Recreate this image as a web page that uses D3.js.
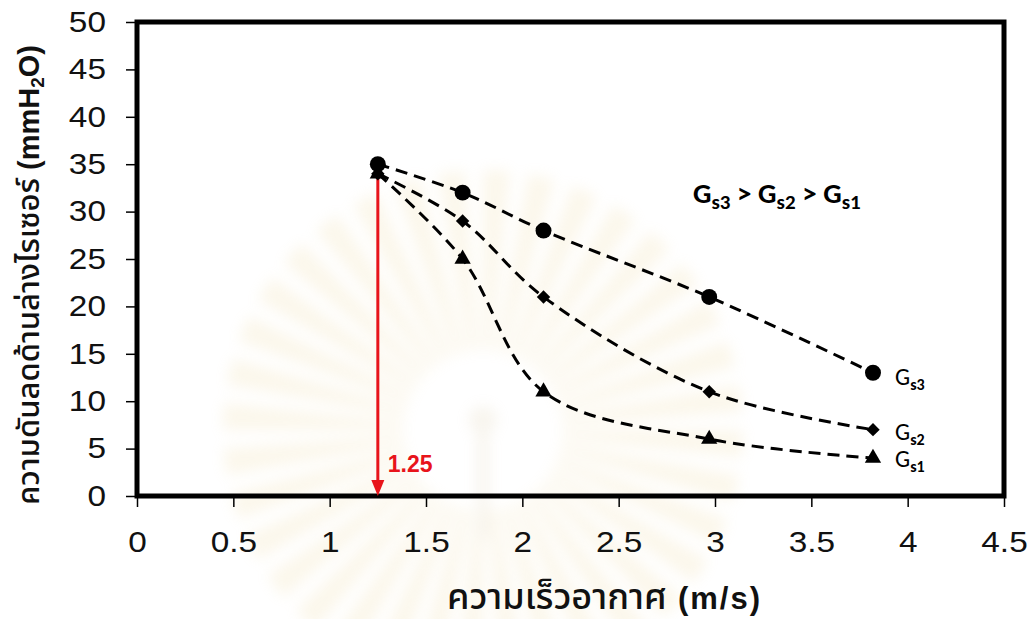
<!DOCTYPE html>
<html>
<head>
<meta charset="utf-8">
<script src="https://cdn.jsdelivr.net/npm/d3@7"></script>
<style>
  html, body { margin: 0; padding: 0; background: #fff; }
  svg { display: block; }
</style>
</head>
<body>
<svg id="chart" width="1036" height="619"></svg>
<script>
// Air velocity (m/s) at each measuring point
const speed = [1.25, 1.69, 2.11, 2.97, 3.82];
// Pressure drop below the riser (mmH2O) for three solid fluxes
const gs3 = [35, 32, 28, 21, 13];
const gs2 = [34, 29, 21, 11, 7];
const gs1 = [34, 25, 11, 6, 4];
const seriesNames = ["Gs3", "Gs2", "Gs1"];
const markerKinds = ["circle", "diamond", "triangle"];
const xTicks = [0, 0.5, 1, 1.5, 2, 2.5, 3, 3.5, 4, 4.5];
const yTicks = [0, 5, 10, 15, 20, 25, 30, 35, 40, 45, 50];
const markedSpeed = 1.25;

const svg = d3.select("#chart");
const plotL = 137, plotR = 1004, plotT = 22, plotB = 496;

const x = d3.scaleLinear().domain([0, 4.5]).range([plotL, plotR]);
const y = d3.scaleLinear().domain([0, 50]).range([plotB, plotT]);

// faint emblem watermark in the background
const defs = svg.append("defs");
defs.append("filter").attr("id", "soft")
  .attr("x", "-50%").attr("y", "-50%").attr("width", "200%").attr("height", "200%")
  .append("feGaussianBlur").attr("stdDeviation", 7);
const wm = svg.append("g").attr("transform", "translate(483,430)")
  .attr("filter", "url(#soft)").attr("opacity", 0.18);
const nRays = 36;
for (let i = 0; i < nRays; i++) {
  const a0 = (i / nRays) * 2 * Math.PI, a1 = a0 + (0.6 / nRays) * 2 * Math.PI;
  wm.append("path")
    .attr("d", d3.arc()({innerRadius: 80, outerRadius: 260, startAngle: a0, endAngle: a1}))
    .attr("fill", "#ecd596");
}
wm.append("rect").attr("x", -6).attr("y", -10).attr("width", 12).attr("height", 120).attr("fill", "#d9c9a4");
wm.append("circle").attr("cx", 0).attr("cy", -10).attr("r", 14).attr("fill", "#d9c9a4");

// axes
const xAxis = d3.axisBottom(x).tickValues(xTicks).tickSize(11).tickPadding(24).tickFormat(d3.format("~g"));
const yAxis = d3.axisLeft(y).tickValues(yTicks).tickSize(11).tickPadding(16).tickFormat(d3.format("~g"));

const gx = svg.append("g").attr("transform", `translate(0,${plotB})`).call(xAxis);
const gy = svg.append("g").attr("transform", `translate(${plotL},0)`).call(yAxis);
[gx, gy].forEach(g => {
  g.select(".domain").remove();
  g.selectAll(".tick line").attr("stroke", "#000").attr("stroke-width", 1.5);
  g.selectAll(".tick text")
    .attr("font-family", "'Liberation Sans', Arial, sans-serif")
    .attr("font-size", 29).attr("fill", "#111")
    .attr("transform", "scale(1.15,1)");
});

// plot frame
svg.append("rect")
  .attr("x", plotL).attr("y", plotT)
  .attr("width", plotR - plotL).attr("height", plotB - plotT)
  .attr("fill", "none").attr("stroke", "#000").attr("stroke-width", 5);

// red arrow at the marked velocity
const red = "#e8141b";
svg.append("line")
  .attr("x1", x(markedSpeed)).attr("x2", x(markedSpeed))
  .attr("y1", y(34.3)).attr("y2", y(0) - 12)
  .attr("stroke", red).attr("stroke-width", 3);
svg.append("path")
  .attr("d", `M${x(markedSpeed) - 6.5},${y(0) - 16} L${x(markedSpeed) + 6.5},${y(0) - 16} L${x(markedSpeed)},${y(0)} Z`)
  .attr("fill", red);
svg.append("text")
  .attr("x", x(markedSpeed) + 10).attr("y", 472)
  .attr("font-family", "'Liberation Sans', Arial, sans-serif")
  .attr("font-weight", "bold").attr("font-size", 23).attr("fill", red)
  .text(d3.format("~g")(markedSpeed));

// dashed smoothed curves and markers
const allSeries = [gs3, gs2, gs1];
const line = d3.line().x((d, i) => x(speed[i])).y(d => y(d)).curve(d3.curveCatmullRom.alpha(0.5));
allSeries.forEach(vals => {
  svg.append("path").attr("d", line(vals))
    .attr("fill", "none").attr("stroke", "#000")
    .attr("stroke-width", 3).attr("stroke-dasharray", "12,7");
});
const symbolOf = {
  circle: d3.symbol().type(d3.symbolCircle).size(200),
  diamond: d3.symbol().type(d3.symbolSquare).size(90),
  triangle: d3.symbol().type(d3.symbolTriangle).size(115)
};
allSeries.slice().reverse().forEach((vals, ri) => {
  const k = allSeries.length - 1 - ri;
  vals.forEach((v, i) => {
    const rot = markerKinds[k] === "diamond" ? " rotate(45)" : "";
    svg.append("path")
      .attr("d", symbolOf[markerKinds[k]]())
      .attr("transform", `translate(${x(speed[i])},${y(v)})${rot}`)
      .attr("fill", "#000");
  });
});

// series labels at the end of each curve
const calibri = "Carlito, Lato, 'Open Sans', sans-serif";
const endLabelY = [385, 440, 467];
seriesNames.forEach((name, k) => {
  const t = svg.append("text").attr("x", x(speed[4]) + 22).attr("y", endLabelY[k])
    .attr("font-family", calibri).attr("fill", "#000");
  t.append("tspan").attr("font-size", 24).text("G");
  t.append("tspan").attr("font-size", 16).attr("font-weight", "bold").attr("dy", 5).text("s" + name.slice(2));
});

// ordering note
const note = svg.append("text").attr("x", 693).attr("y", 203).attr("font-size", 29)
  .attr("font-family", calibri).attr("font-weight", "bold");
[["G", "s3", " > "], ["G", "s2", " > "], ["G", "s1", ""]].forEach(([b, s, tail]) => {
  note.append("tspan").attr("dy", 0).text(b);
  note.append("tspan").attr("font-size", 21).attr("dy", 6).text(s);
  note.append("tspan").attr("dy", -6).text(tail);
});

// axis titles
const thaiFamily = "'Liberation Sans', Arial, 'Noto Sans Thai', sans-serif";
const xt = svg.append("text")
  .attr("x", 447).attr("y", 609)
  .attr("font-family", thaiFamily).attr("fill", "#111");
xt.append("tspan").attr("font-size", 36).attr("font-weight", 500).text("ความเร็วอากาศ");
xt.append("tspan").attr("x", 678).attr("font-size", 31).attr("font-weight", "bold")
  .attr("textLength", 82).text("(m/s)");

const yt = svg.append("text")
  .attr("transform", "translate(39,505) rotate(-90)")
  .attr("font-family", thaiFamily).attr("fill", "#111");
yt.append("tspan").attr("font-size", 31).attr("font-weight", 500).text("ความดันลดด้านล่างไรเซอร์");
yt.append("tspan").attr("font-size", 29).attr("font-weight", "bold").text(" (mmH");
yt.append("tspan").attr("font-size", 19).attr("font-weight", "bold").attr("dy", 5).text("2");
yt.append("tspan").attr("font-size", 29).attr("font-weight", "bold").attr("dy", -5).text("O)");
</script>
</body>
</html>
